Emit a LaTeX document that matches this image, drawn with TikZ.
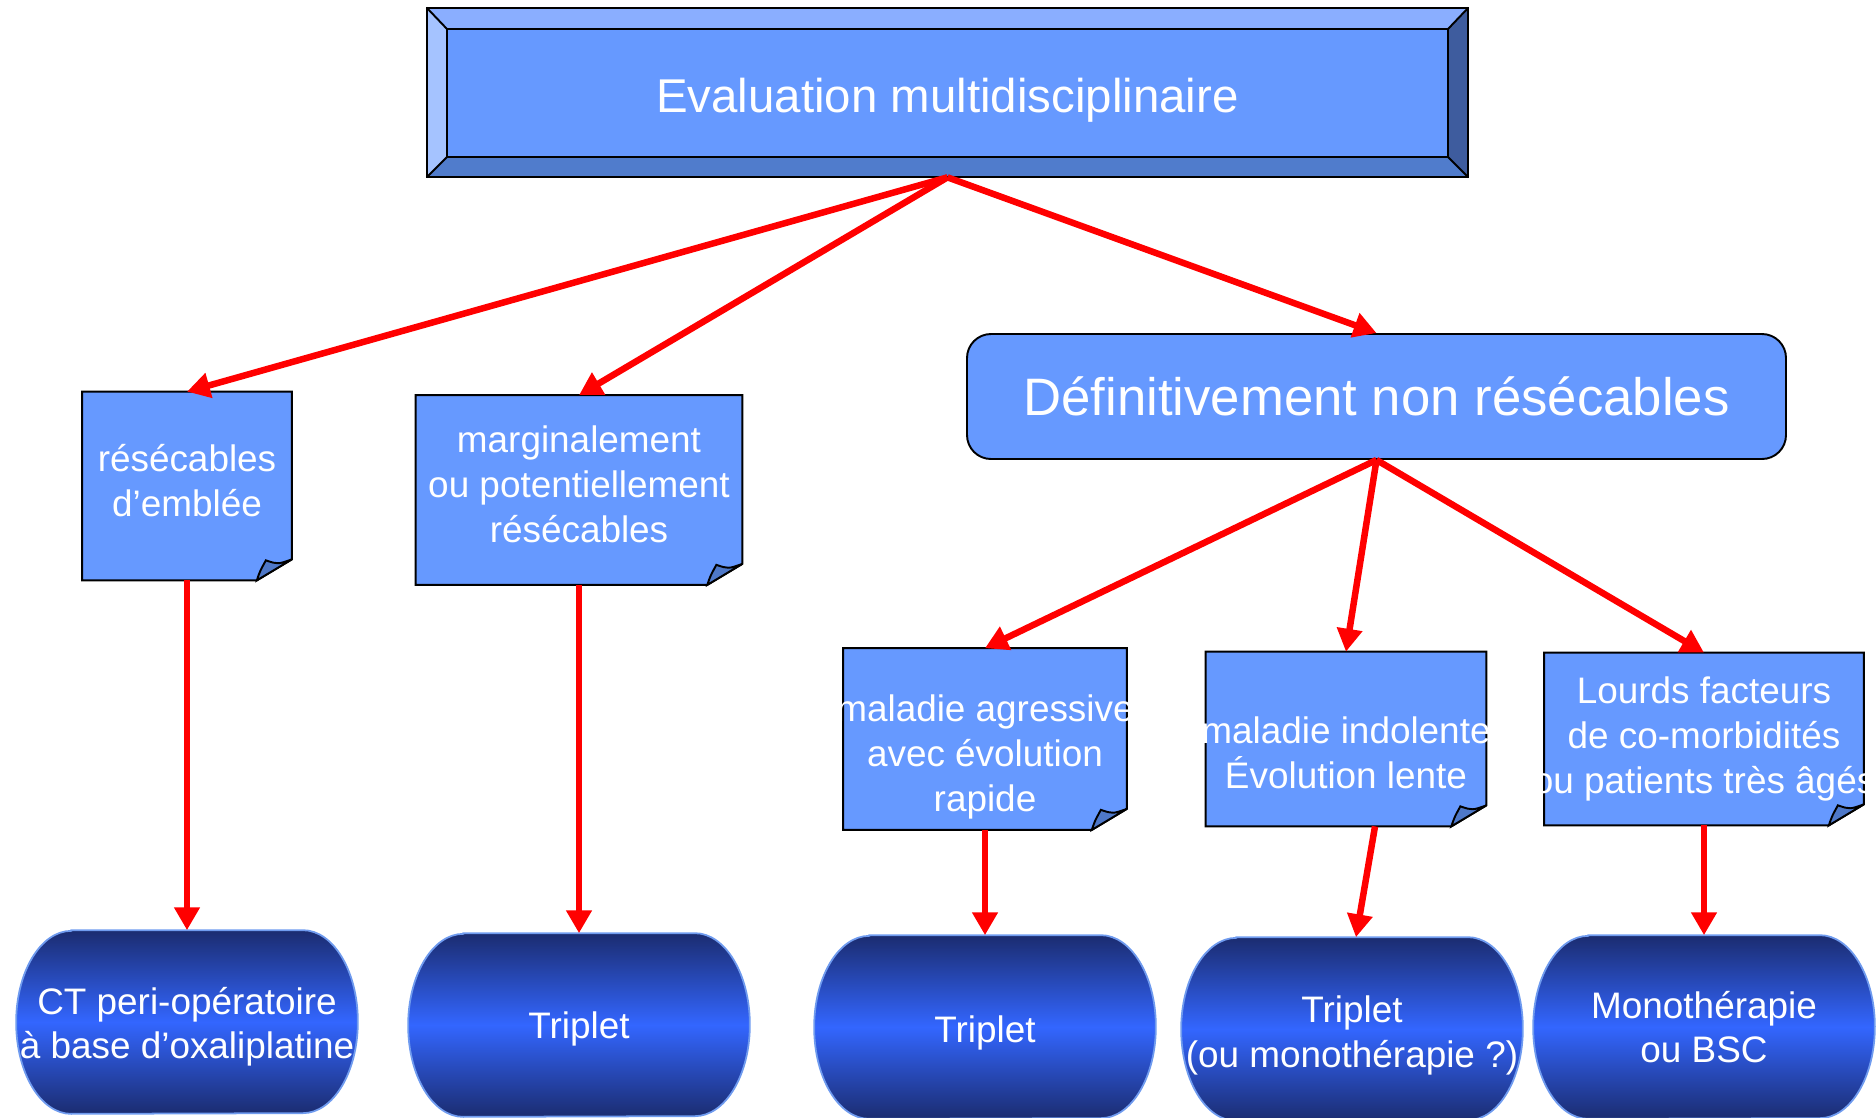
\documentclass[tikz,border=0pt]{standalone}
\usepackage{fontspec}
\setmainfont{Liberation Sans}
\usetikzlibrary{arrows.meta,backgrounds}
\definecolor{boxblue}{HTML}{6699FF}
\definecolor{bevtop}{HTML}{8AAEFF}
\definecolor{bevleft}{HTML}{A5C3FF}
\definecolor{bevright}{HTML}{3E5C9E}
\definecolor{bevbottom}{HTML}{507CCC}
\definecolor{folddark}{HTML}{4E78C8}
\definecolor{capdark}{HTML}{1B2C70}
\definecolor{capmid}{HTML}{3366FF}
\definecolor{capline}{HTML}{6F9BEF}
\newdimen\pxu \pxu=0.02cm
\newcommand{\overrun}[1]{\makebox[0pt]{#1}}
\newcommand{\padtop}[1]{\rule{0pt}{#1}}
\newcommand{\padbot}[1]{\rule[-#1]{0pt}{#1}}

\begin{document}
\begin{tikzpicture}[
    x=0.02cm, y=-0.02cm,
    flow/.style={draw=red, line width=3.7pt, -{Triangle[length=13pt,width=14pt]}},
    bevelbox/.style={minimum width=1041\pxu, minimum height=169\pxu, inner sep=0pt,
        text=white, font=\fontsize{27}{32}\selectfont},
    roundbox/.style={draw=black, line width=1.1pt, fill=boxblue, rounded corners=24\pxu,
        minimum width=819\pxu, minimum height=125\pxu, inner sep=0pt,
        text=white, font=\fontsize{30}{36}\selectfont},
    note/.style={inner sep=0pt, align=center, text=white, font=\fontsize{21}{25.5}\selectfont},
    capsule/.style={minimum width=341\pxu, minimum height=183\pxu, inner sep=0pt, align=center,
        text=white, font=\fontsize{21}{25.5}\selectfont}
]
    \useasboundingbox (0,0) rectangle (1876,1117);

    \node[bevelbox] (eval) at (947.5,92.5) {\padtop{28.7pt}Evaluation multidisciplinaire};
    \node[roundbox] (def) at (1376.5,396.5) {Définitivement non résécables};

    \node[note, minimum width=209\pxu, minimum height=188\pxu] (res) at (187,486) {résécables\\d’emblée\padbot{6.8pt}};
    \node[note, minimum width=326\pxu, minimum height=189\pxu] (marg) at (579,490) {marginalement\\ou potentiellement\\résécables\padbot{6.8pt}};
    \node[note, minimum width=283\pxu, minimum height=181\pxu] (aggr) at (985,739) {\padtop{35.7pt}\overrun{maladie agressive}\\avec évolution\\rapide};
    \node[note, minimum width=280\pxu, minimum height=174\pxu, right of=aggr, node distance=361\pxu] (indol) {\padtop{31.3pt}\overrun{maladie indolente}\\Évolution lente};
    \node[note, minimum width=319\pxu, minimum height=172\pxu, right of=indol, node distance=358\pxu] (lourds) {Lourds facteurs\\de co-morbidités\\\overrun{ou patients très âgés}};

    \node[capsule, below of=res, node distance=536\pxu] (ct) {\padtop{20.9pt}CT peri-opératoire\\\overrun{à base d’oxaliplatine}};
    \node[capsule, below of=marg, node distance=535\pxu] (trip1) {\padtop{19.9pt}Triplet};
    \node[capsule, below of=aggr, node distance=288\pxu] (trip2) {\padtop{22.1pt}Triplet};
    \node[capsule, below of=indol, node distance=290\pxu, xshift=6\pxu] (trip3) {\padtop{22.1pt}Triplet\\(ou monothérapie ?)};
    \node[capsule, below of=lourds, node distance=288\pxu] (mono) {Monothérapie\\ou BSC};

    \begin{scope}[on background layer]
        % bevelled frame of the top box
        \coordinate (eNW) at ([shift={(20\pxu,-21\pxu)}]eval.north west);
        \coordinate (eNE) at ([shift={(-20\pxu,-21\pxu)}]eval.north east);
        \coordinate (eSE) at ([shift={(-20\pxu,20\pxu)}]eval.south east);
        \coordinate (eSW) at ([shift={(20\pxu,20\pxu)}]eval.south west);
        \fill[bevtop] (eval.north west) -- (eval.north east) -- (eNE) -- (eNW) -- cycle;
        \fill[bevright] (eval.north east) -- (eval.south east) -- (eSE) -- (eNE) -- cycle;
        \fill[bevbottom] (eval.south east) -- (eval.south west) -- (eSW) -- (eSE) -- cycle;
        \fill[bevleft] (eval.south west) -- (eval.north west) -- (eNW) -- (eSW) -- cycle;
        \filldraw[fill=boxblue, line width=1.1pt] (eNW) rectangle (eSE);
        \draw[line width=1.1pt] (eval.north west) rectangle (eval.south east);
        \draw[line width=1.1pt] (eval.north west) -- (eNW) (eval.north east) -- (eNE)
            (eval.south east) -- (eSE) (eval.south west) -- (eSW);

        % notes with a folded corner
        \foreach \n in {res,marg,aggr,indol,lourds} {
            \filldraw[fill=boxblue, line width=1.1pt] (\n.north west) -- (\n.north east)
                -- ([yshift=21\pxu]\n.south east) -- ([xshift=-35\pxu]\n.south east) -- (\n.south west) -- cycle;
            \filldraw[fill=folddark, line width=1.1pt] ([xshift=-35\pxu]\n.south east)
                .. controls ([shift={(-32\pxu,9\pxu)}]\n.south east) .. ([shift={(-26\pxu,20\pxu)}]\n.south east)
                .. controls ([shift={(-14\pxu,16\pxu)}]\n.south east) .. ([yshift=21\pxu]\n.south east) -- cycle;
        }

        % shaded capsules
        \foreach \n in {ct,trip1,trip2,trip3,mono} {
            \path[draw=capline, line width=1pt, top color=capdark, bottom color=capdark, middle color=capmid]
                ([xshift=55\pxu]\n.north west) -- ([xshift=-55\pxu]\n.north east)
                arc[start angle=90, end angle=-90, x radius=55\pxu, y radius=91.5\pxu]
                -- ([xshift=55\pxu]\n.south west)
                arc[start angle=270, end angle=90, x radius=55\pxu, y radius=91.5\pxu] -- cycle;
        }
    \end{scope}

    \draw[flow] (eval.south) -- (res.north);
    \draw[flow] (eval.south) -- (marg.north);
    \draw[flow] (eval.south) -- (def.north);

    \draw[flow] (def.south) -- (aggr.north);
    \draw[flow] (def.south) -- (indol.north);
    \draw[flow] (def.south) -- (lourds.north);

    \draw[flow] (res.south) -- (ct.north);
    \draw[flow] (marg.south) -- (trip1.north);
    \draw[flow] (aggr.south) -- (trip2.north);
    \draw[flow] ([xshift=29\pxu]indol.south) -- ([xshift=4\pxu]trip3.north);
    \draw[flow] (lourds.south) -- (mono.north);
\end{tikzpicture}
\end{document}
